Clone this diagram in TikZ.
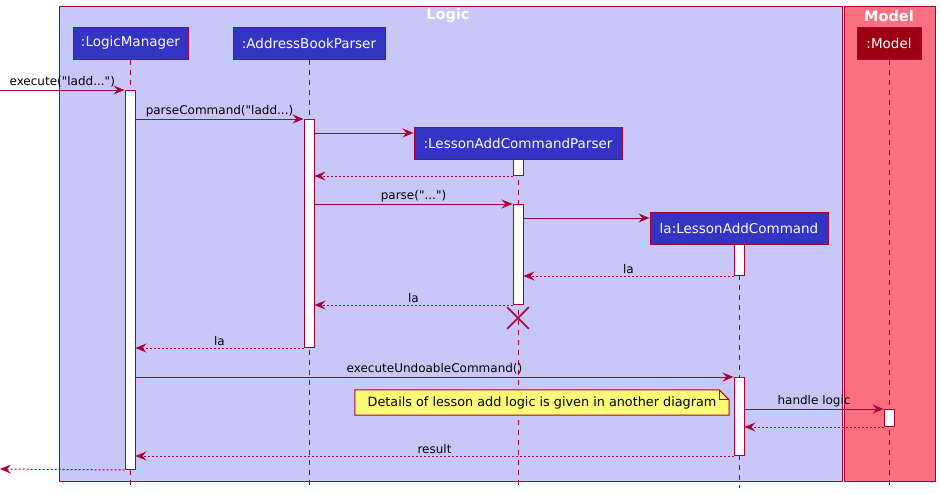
\documentclass[tikz,border=0pt]{standalone}
\usepackage{fontspec}
\setmainfont{DejaVu Sans}[Ligatures=TeXOff]
\usepackage{tikz}
\usetikzlibrary{arrows.meta}
\usetikzlibrary{calc}
\usetikzlibrary{shapes.misc}
\definecolor{umlline}{HTML}{A80036}
\definecolor{logicbg}{HTML}{C8C8F8}
\definecolor{modelbg}{HTML}{F97181}
\definecolor{logicbox}{HTML}{3333C4}
\definecolor{modelbox}{HTML}{9D0012}
\definecolor{notebg}{HTML}{FBFB77}

\begin{document}
\begin{tikzpicture}[x=1pt, y=-1pt,
        frame/.style={rectangle, draw=umlline, line width=1pt, anchor=north west, inner sep=0pt},
        title/.style={text=white, font=\fontsize{14.5}{16}\selectfont\bfseries},
        actor/.style={rectangle, draw=umlline, line width=1pt, fill=logicbox, text=white, minimum height=32pt, inner sep=0pt, font=\fontsize{13.5}{16}\selectfont},
        act/.style={rectangle, draw=umlline, line width=1pt, fill=white, minimum width=10pt, inner sep=0pt, anchor=north},
        life/.style={draw=umlline, line width=1pt, dash pattern=on 5pt off 5pt},
        msg/.style={draw=umlline, line width=1pt, -{Stealth[length=11pt, width=9pt, inset=4pt]}},
        reply/.style={msg, dash pattern=on 2pt off 2pt},
        lbl/.style={above, inner sep=2pt, text=black, font=\fontsize{12}{14}\selectfont}]
    \useasboundingbox (0,0) rectangle (940,493);

    % boxes
    \node[frame, fill=logicbg, minimum width=783pt, minimum height=475pt] (logic) at (59,6) {};
    \node[frame, fill=modelbg, minimum width=91pt, minimum height=475pt] (modelgrp) at (844,6) {};
    \node[title] (logictitle) at (448,16) {Logic};
    \node[title] (modeltitle) at (889,16) {Model};

    % participants
    \node[actor, minimum width=115pt] (lm) at (130.5,43) {:LogicManager};
    \node[actor, minimum width=152pt] (abp) at (309,43) {:AddressBookParser};
    \node[actor, minimum width=208pt] (lacp) at (518,143) {:LessonAddCommandParser};
    \node[actor, minimum width=178pt] (lac) at (739,228) {la:LessonAddCommand};
    \node[actor, fill=modelbox, minimum width=64pt] (model) at (889,43) {:Model};

    \draw[life] (lm.south) -- (lm.south |- 0,486);
    \draw[life] (abp.south) -- (abp.south |- 0,486);
    \draw[life] (lacp.south) -- (lacp.south |- 0,486);
    \draw[life] (lac.south) -- (lac.south |- 0,488);
    \draw[life] (model.south) -- (model.south |- 0,486);

    % activations
    \node[act, minimum height=379pt] (lm1) at (130,90) {};
    \node[act, minimum height=228pt] (abp1) at (309,119) {};
    \node[act, minimum height=16pt] (lacp1) at (518,159) {};
    \node[act, minimum height=100pt] (lacp2) at (518,204) {};
    \node[act, minimum height=31pt] (lac1) at (739,244) {};
    \node[act, minimum height=78pt] (lac2) at (739,377) {};
    \node[act, minimum height=17pt] (model1) at (889,409) {};

    % messages
    \coordinate (in) at (0,90);
    \coordinate (out) at (0,469);
    \draw[msg] (in) -- node[lbl] {execute("ladd...")} (lm1.north west);
    \draw[msg] (lm1.east |- abp1.north) -- node[lbl] {parseCommand("ladd...)} (abp1.north west);
    \draw[msg] (abp1.east |- 0,133) -- (lacp.west |- 0,133);
    \draw[reply] (lacp1.south west) -- (abp1.east |- lacp1.south);
    \draw[msg] (abp1.east |- lacp2.north) -- node[lbl] {parse("...")} (lacp2.north west);
    \draw[msg] (lacp2.east |- 0,218) -- (lac.west |- 0,218);
    \draw[reply] (lac1.south west) -- node[lbl] {la} (lacp2.east |- lac1.south);
    \draw[reply] (lacp2.south west) -- node[lbl] {la} (abp1.east |- lacp2.south);
    \node[cross out, draw=umlline, line width=1.5pt, minimum size=20pt, inner sep=0pt] (lacpx) at (518,318) {};
    \draw[reply] (abp1.south west) -- node[lbl] {la} (lm1.east |- abp1.south);
    \draw[msg] (lm1.east |- lac2.north) -- node[lbl] {executeUndoableCommand()} (lac2.north west);

    % note
    \node[rectangle, minimum width=374pt, minimum height=25pt, inner sep=0pt] (note) at (542,402.5) {};
    \draw[umlline, fill=notebg, line width=1pt] (note.north west) -- ($(note.north east)+(-10,0)$) -- ($(note.north east)+(0,10)$) -- (note.south east) -- (note.south west) -- cycle;
    \draw[umlline, line width=1pt] ($(note.north east)+(-10,0)$) -- ($(note.north east)+(-10,10)$) -- ($(note.north east)+(0,10)$);
    \node[font=\fontsize{12.8}{14}\selectfont] (notetext) at (note) {Details of lesson add logic is given in another diagram};

    \draw[msg] (lac2.east |- model1.north) -- node[lbl] {handle logic} (model1.north west);
    \draw[reply] (model1.south west) -- (lac2.east |- model1.south);
    \draw[reply] (lac2.south west) -- node[lbl] {result} (lm1.east |- lac2.south);
    \draw[reply] (lm1.south west) -- (out);
\end{tikzpicture}
\end{document}
